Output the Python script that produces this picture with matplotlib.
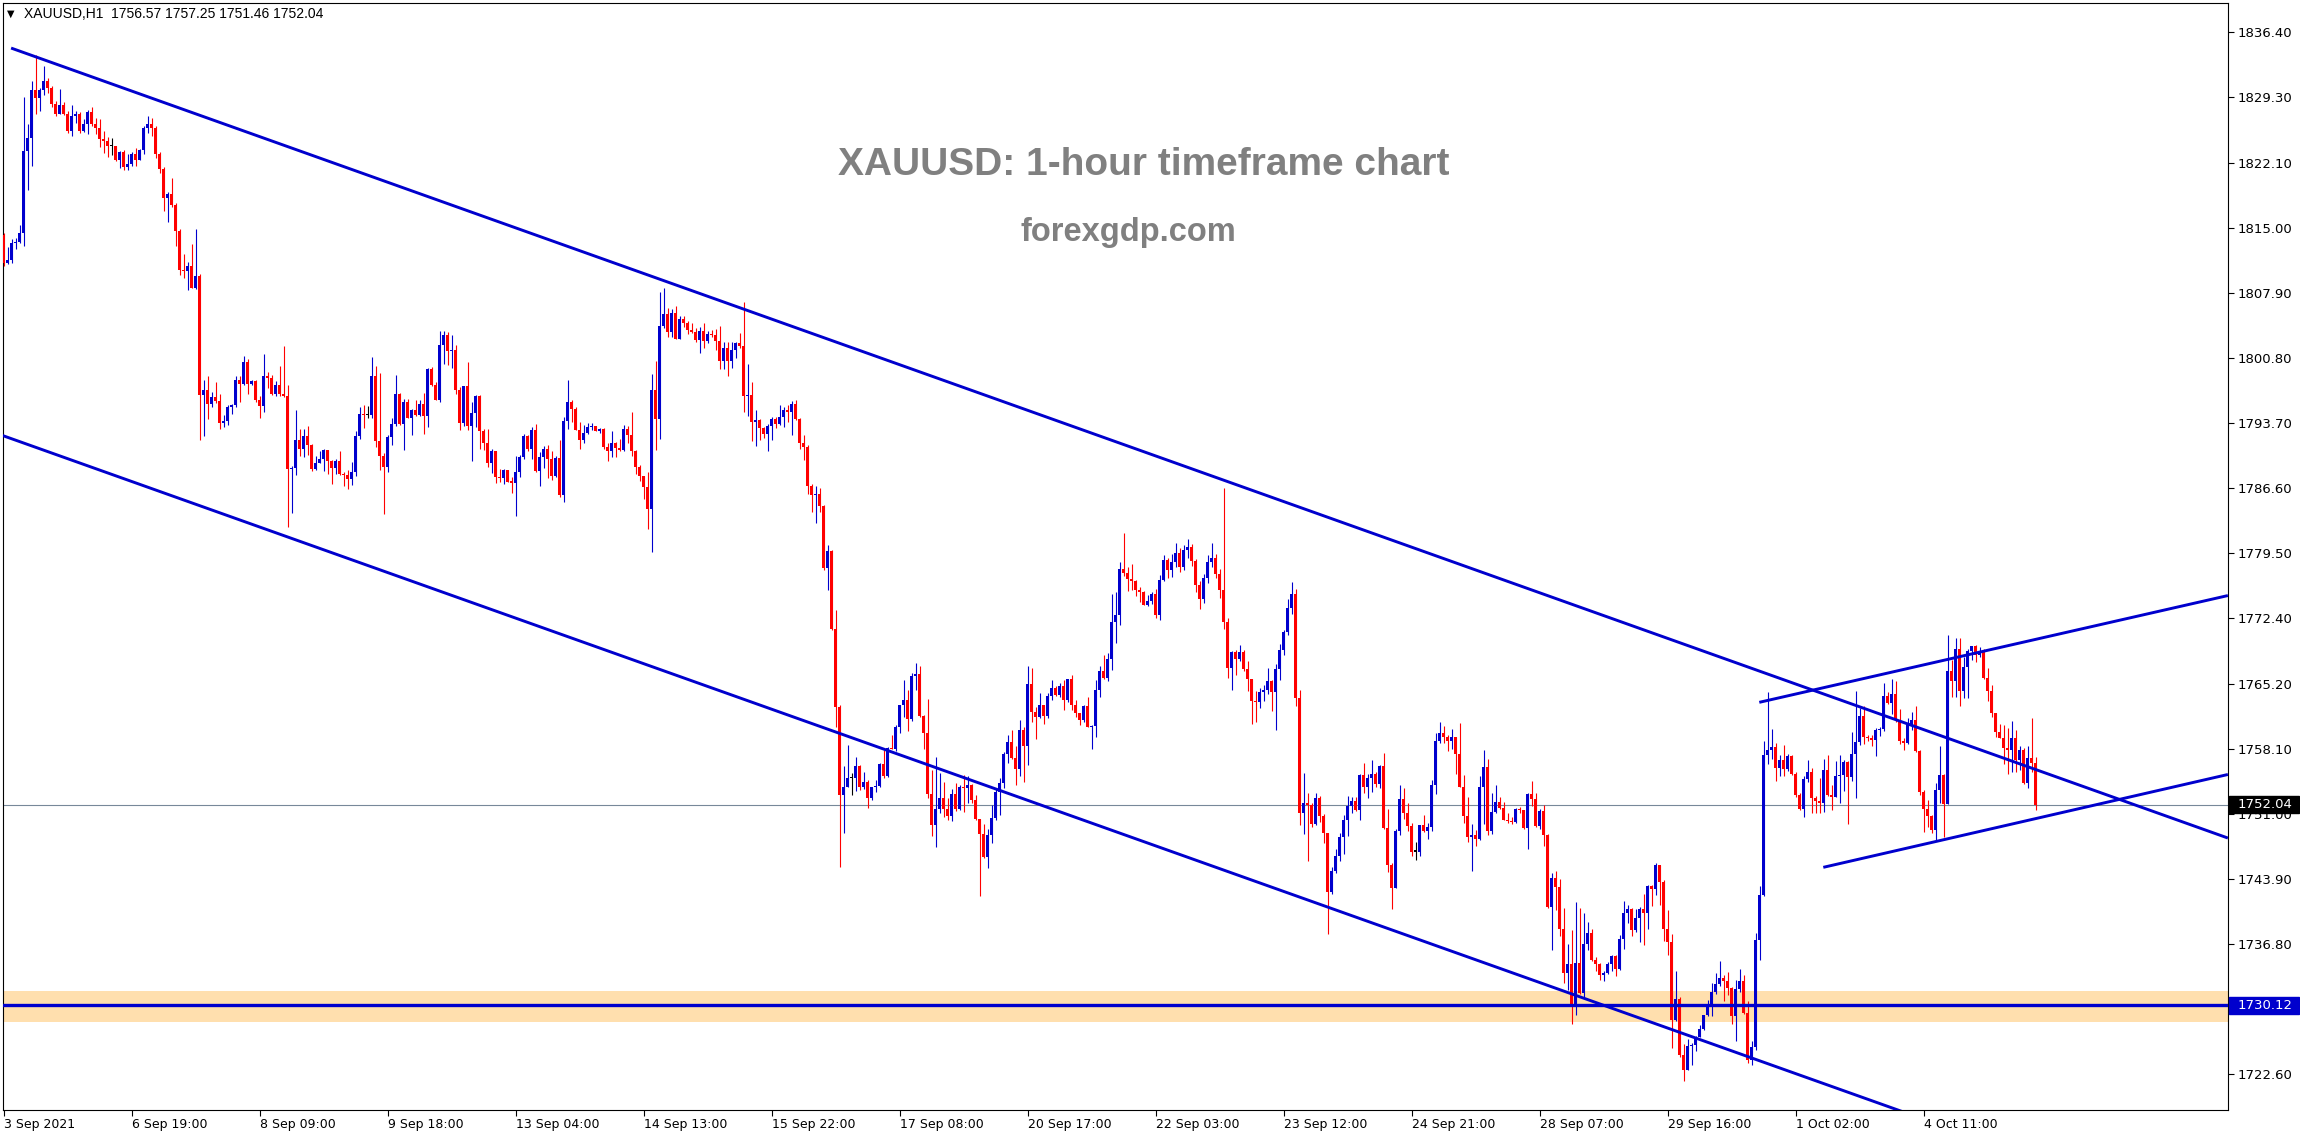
import numpy as np
import matplotlib
matplotlib.use("Agg")
import matplotlib.pyplot as plt
import matplotlib.transforms as mtransforms
from matplotlib.patches import Rectangle

# XAUUSD H1 candles (open = previous close)
first_open = 1814.2

closes = [
    1811.2, 1811.5, 1813.4, 1813.5, 1814.5, 1823.4, 1824.8, 1830.1, 1829.2, 1830.1,
    1831.1, 1830.3, 1828.5, 1827.5, 1828.4, 1827.5, 1825.6, 1827.2, 1827.4, 1825.6,
    1826.4, 1827.7, 1826.4, 1825.9, 1824.7, 1824.5, 1823.9, 1823.9, 1822.4, 1823.3,
    1821.7, 1822.0, 1823.1, 1822.4, 1823.5, 1825.9, 1826.4, 1825.9, 1823.1, 1821.4,
    1818.3, 1818.7, 1817.5, 1814.7, 1810.4, 1810.3, 1810.9, 1808.5, 1809.8, 1796.8,
    1797.3, 1795.8, 1796.5, 1796.1, 1793.7, 1793.9, 1795.4, 1795.7, 1798.4, 1798.0,
    1800.4, 1798.0, 1798.3, 1796.2, 1795.6, 1798.8, 1798.6, 1796.9, 1797.9, 1796.9,
    1796.6, 1788.7, 1788.8, 1791.9, 1790.9, 1792.3, 1791.3, 1788.7, 1789.3, 1789.8,
    1790.8, 1789.6, 1788.8, 1789.6, 1788.1, 1788.0, 1787.6, 1788.3, 1792.3, 1794.7,
    1794.6, 1794.6, 1798.8, 1791.7, 1790.1, 1788.9, 1792.2, 1793.6, 1796.9, 1793.6,
    1796.0, 1794.3, 1795.1, 1794.6, 1795.8, 1794.5, 1799.6, 1797.9, 1796.2, 1802.2,
    1803.3, 1801.6, 1801.7, 1797.3, 1793.7, 1797.7, 1793.4, 1794.8, 1796.6, 1792.8,
    1791.5, 1789.3, 1790.6, 1787.8, 1787.7, 1788.6, 1787.3, 1787.2, 1788.3, 1790.0,
    1792.3, 1790.9, 1792.9, 1788.5, 1790.0, 1790.9, 1789.8, 1787.9, 1789.9, 1785.8,
    1793.9, 1796.0, 1795.2, 1792.9, 1791.8, 1792.6, 1793.3, 1793.4, 1792.8, 1793.1,
    1791.1, 1790.7, 1791.5, 1791.0, 1790.8, 1793.0, 1792.4, 1790.6, 1788.9, 1787.9,
    1786.7, 1784.3, 1797.3, 1794.1, 1804.3, 1805.6, 1803.6, 1805.7, 1802.9, 1805.1,
    1804.6, 1803.9, 1803.6, 1802.8, 1803.8, 1802.7, 1803.4, 1803.3, 1802.7, 1800.5,
    1801.9, 1800.5, 1801.7, 1802.4, 1802.1, 1796.6, 1796.8, 1793.8, 1794.0, 1793.2,
    1792.5, 1793.4, 1794.1, 1793.6, 1794.4, 1795.1, 1794.9, 1795.8, 1794.1, 1791.5,
    1791.1, 1786.8, 1785.8, 1786.0, 1784.6, 1777.9, 1779.7, 1771.2, 1762.7, 1753.1,
    1754.0, 1754.9, 1754.9, 1756.3, 1754.0, 1754.5, 1752.7, 1753.9, 1754.1, 1756.5,
    1755.1, 1758.2, 1758.1, 1760.5, 1762.9, 1763.4, 1761.4, 1766.1, 1766.3, 1761.7,
    1759.9, 1753.2, 1749.8, 1751.5, 1752.7, 1751.6, 1750.8, 1753.2, 1751.6, 1754.0,
    1753.8, 1754.2, 1752.5, 1750.5, 1748.8, 1746.3, 1748.7, 1750.6, 1753.4, 1754.4,
    1757.6, 1758.9, 1757.1, 1755.9, 1760.2, 1758.4, 1765.2, 1762.1, 1761.6, 1762.9,
    1761.7, 1763.9, 1764.8, 1764.0, 1765.0, 1763.4, 1765.7, 1762.9, 1762.0, 1761.3,
    1762.8, 1760.5, 1760.6, 1764.5, 1766.6, 1765.9, 1767.9, 1772.0, 1772.7, 1777.8,
    1777.3, 1776.7, 1776.5, 1775.5, 1775.2, 1773.8, 1774.3, 1775.0, 1772.7, 1776.6,
    1778.7, 1777.7, 1778.5, 1779.5, 1778.0, 1779.8, 1780.2, 1778.6, 1776.0, 1774.5,
    1776.8, 1778.5, 1779.0, 1777.2, 1775.5, 1772.0, 1767.0, 1768.7, 1767.9, 1768.7,
    1766.8, 1765.7, 1763.3, 1763.2, 1764.3, 1764.6, 1765.5, 1764.3, 1766.8, 1768.9,
    1770.9, 1773.5, 1775.0, 1763.7, 1751.1, 1752.2, 1752.0, 1749.9, 1752.8, 1750.8,
    1748.9, 1742.5, 1744.8, 1746.4, 1748.5, 1750.3, 1751.9, 1752.4, 1751.4, 1755.3,
    1754.0, 1754.9, 1755.4, 1754.3, 1756.2, 1749.5, 1745.4, 1742.9, 1749.1, 1752.6,
    1751.1, 1749.7, 1746.9, 1746.9, 1749.8, 1749.1, 1749.6, 1754.2, 1759.0, 1759.8,
    1759.4, 1759.0, 1759.4, 1757.6, 1753.9, 1750.8, 1748.5, 1748.7, 1748.3, 1753.9,
    1756.1, 1749.1, 1751.2, 1752.3, 1751.7, 1750.3, 1750.2, 1750.1, 1751.5, 1751.4,
    1749.5, 1753.2, 1752.6, 1749.7, 1751.3, 1748.7, 1740.9, 1744.0, 1743.0, 1738.4,
    1733.6, 1734.6, 1730.3, 1734.7, 1731.5, 1736.8, 1738.0, 1735.1, 1734.6, 1733.4,
    1733.6, 1734.6, 1735.5, 1734.1, 1737.3, 1740.2, 1740.6, 1738.3, 1739.7, 1740.6,
    1740.2, 1743.1, 1742.8, 1745.4, 1743.6, 1738.4, 1737.0, 1728.5, 1730.8, 1724.7,
    1723.1, 1725.7, 1725.8, 1726.7, 1727.5, 1729.0, 1730.3, 1731.6, 1732.4, 1733.1,
    1732.8, 1732.0, 1728.9, 1731.9, 1732.8, 1729.3, 1724.1, 1725.6, 1737.2, 1742.2,
    1757.4, 1758.0, 1758.3, 1756.0, 1756.9, 1755.9, 1757.3, 1755.4, 1753.1, 1751.5,
    1754.8, 1755.6, 1752.7, 1752.4, 1752.2, 1755.8, 1753.1, 1752.9, 1755.1, 1755.3,
    1756.7, 1755.0, 1757.6, 1758.9, 1761.7, 1759.4, 1759.3, 1759.1, 1760.2, 1760.3,
    1763.9, 1763.1, 1764.1, 1761.3, 1759.0, 1758.8, 1760.7, 1761.3, 1757.9, 1753.4,
    1751.6, 1750.8, 1749.3, 1753.6, 1755.3, 1752.1, 1766.6, 1765.5, 1769.0, 1764.4,
    1767.1, 1768.8, 1769.3, 1768.4, 1768.8, 1765.9, 1764.4, 1762.0, 1760.0, 1759.3,
    1758.2, 1758.0, 1759.3, 1756.9, 1758.0, 1754.4, 1757.1, 1756.57, 1752.04,
]

highs = [
    1814.4, 1812.9, 1813.8, 1813.9, 1815.3, 1829.3, 1826.4, 1831.0, 1833.9, 1830.3,
    1832.7, 1831.4, 1830.5, 1828.9, 1830.2, 1828.8, 1827.8, 1828.4, 1827.8, 1827.7,
    1826.9, 1827.9, 1828.2, 1827.0, 1826.9, 1825.6, 1824.9, 1824.8, 1824.0, 1823.4,
    1823.5, 1823.1, 1823.3, 1823.7, 1823.6, 1826.1, 1827.2, 1827.0, 1826.1, 1823.3,
    1821.7, 1818.9, 1820.5, 1817.7, 1814.9, 1812.2, 1811.3, 1813.2, 1814.9, 1810.0,
    1798.4, 1798.8, 1797.1, 1798.2, 1796.9, 1794.6, 1795.7, 1795.8, 1798.8, 1798.8,
    1801.0, 1800.7, 1798.4, 1798.4, 1796.6, 1801.2, 1799.3, 1798.9, 1798.3, 1799.9,
    1802.1, 1797.9, 1789.0, 1795.1, 1793.1, 1793.1, 1793.4, 1791.4, 1790.1, 1790.6,
    1790.9, 1790.8, 1789.7, 1789.8, 1790.6, 1788.4, 1788.6, 1789.4, 1792.8, 1795.5,
    1795.7, 1795.6, 1800.9, 1799.9, 1799.2, 1790.4, 1792.4, 1794.3, 1799.0, 1797.0,
    1796.3, 1796.3, 1795.2, 1796.2, 1796.2, 1797.0, 1799.7, 1799.8, 1798.2, 1803.7,
    1803.7, 1803.6, 1803.3, 1802.2, 1797.6, 1797.7, 1800.4, 1796.0, 1796.8, 1796.8,
    1793.1, 1793.0, 1790.9, 1790.7, 1788.7, 1788.7, 1788.6, 1787.8, 1790.1, 1790.2,
    1792.5, 1792.4, 1793.3, 1793.6, 1790.5, 1791.2, 1791.3, 1790.6, 1790.1, 1791.8,
    1794.4, 1798.4, 1796.2, 1795.5, 1793.8, 1793.5, 1793.7, 1793.7, 1793.4, 1793.2,
    1793.2, 1791.5, 1792.8, 1791.6, 1792.0, 1793.5, 1793.4, 1794.9, 1790.8, 1789.1,
    1787.9, 1788.3, 1799.1, 1800.5, 1808.0, 1808.5, 1806.3, 1806.2, 1806.5, 1805.4,
    1805.4, 1804.8, 1804.6, 1804.1, 1804.2, 1804.6, 1803.7, 1803.9, 1804.0, 1804.3,
    1802.6, 1802.6, 1802.5, 1802.5, 1803.5, 1806.9, 1800.2, 1798.2, 1795.1, 1794.1,
    1793.3, 1793.6, 1794.4, 1794.4, 1795.7, 1795.5, 1795.7, 1796.1, 1796.2, 1794.3,
    1792.4, 1791.3, 1787.0, 1786.8, 1786.6, 1784.8, 1780.4, 1779.8, 1773.3, 1762.9,
    1756.3, 1758.5, 1755.5, 1757.2, 1756.4, 1755.6, 1754.7, 1754.0, 1754.7, 1756.6,
    1758.0, 1758.3, 1759.6, 1760.7, 1762.9, 1765.6, 1764.5, 1766.4, 1767.5, 1767.2,
    1761.8, 1763.6, 1755.8, 1757.2, 1755.5, 1754.5, 1752.7, 1753.7, 1754.4, 1754.2,
    1755.3, 1755.1, 1754.3, 1753.1, 1750.5, 1749.9, 1749.4, 1752.0, 1753.7, 1754.9,
    1757.8, 1759.6, 1760.2, 1758.4, 1761.3, 1760.5, 1767.2, 1766.9, 1762.7, 1764.2,
    1762.9, 1764.2, 1765.6, 1765.0, 1765.3, 1765.6, 1765.8, 1766.2, 1763.5, 1762.0,
    1762.9, 1763.8, 1760.7, 1765.6, 1767.2, 1768.4, 1768.6, 1775.0, 1775.2, 1778.5,
    1781.7, 1778.0, 1778.3, 1776.6, 1775.8, 1775.4, 1774.9, 1775.3, 1775.6, 1777.1,
    1779.3, 1779.0, 1779.4, 1780.6, 1780.0, 1780.4, 1781.0, 1780.5, 1778.9, 1776.4,
    1777.2, 1779.3, 1780.6, 1779.4, 1777.8, 1786.6, 1772.4, 1768.8, 1768.9, 1769.5,
    1768.9, 1767.7, 1765.8, 1764.4, 1764.8, 1765.1, 1767.0, 1765.6, 1767.4, 1769.6,
    1771.1, 1774.5, 1776.3, 1775.6, 1764.5, 1755.5, 1753.3, 1752.2, 1753.3, 1753.0,
    1751.0, 1748.9, 1745.2, 1747.2, 1748.9, 1750.9, 1753.0, 1752.9, 1752.9, 1755.4,
    1756.6, 1755.4, 1756.9, 1755.6, 1756.4, 1757.7, 1751.5, 1745.6, 1749.4, 1754.2,
    1753.8, 1752.2, 1750.0, 1748.0, 1749.8, 1750.9, 1750.0, 1754.7, 1759.8, 1761.0,
    1760.6, 1759.6, 1760.3, 1759.4, 1760.9, 1755.3, 1752.9, 1749.9, 1749.3, 1755.1,
    1758.0, 1757.0, 1753.3, 1754.2, 1752.9, 1752.3, 1751.1, 1750.7, 1751.7, 1751.8,
    1751.4, 1753.3, 1754.6, 1753.3, 1751.5, 1752.0, 1748.8, 1744.6, 1744.8, 1743.9,
    1740.7, 1736.8, 1738.3, 1741.4, 1740.7, 1740.2, 1739.2, 1738.5, 1735.4, 1734.7,
    1733.9, 1734.8, 1735.6, 1735.6, 1737.8, 1741.5, 1741.1, 1740.7, 1740.6, 1740.9,
    1742.3, 1743.3, 1743.3, 1745.6, 1745.4, 1743.8, 1740.5, 1737.9, 1733.9, 1731.0,
    1725.9, 1726.4, 1726.0, 1726.8, 1728.0, 1729.1, 1730.7, 1732.6, 1733.6, 1734.9,
    1733.4, 1733.7, 1732.1, 1732.9, 1734.1, 1733.4, 1730.6, 1726.2, 1738.0, 1743.1,
    1759.0, 1764.3, 1760.3, 1758.8, 1757.4, 1758.5, 1757.6, 1757.5, 1755.6, 1753.3,
    1755.1, 1756.9, 1756.0, 1753.0, 1754.9, 1757.0, 1757.4, 1754.2, 1756.8, 1757.4,
    1756.9, 1756.8, 1760.0, 1764.4, 1762.6, 1762.8, 1759.6, 1759.6, 1760.4, 1760.5,
    1765.3, 1764.3, 1765.7, 1765.5, 1762.5, 1759.3, 1761.5, 1762.1, 1762.8, 1758.0,
    1753.6, 1752.5, 1750.9, 1754.4, 1758.4, 1755.4, 1770.6, 1767.8, 1770.2, 1770.2,
    1768.1, 1769.0, 1769.4, 1769.5, 1769.2, 1769.0, 1766.9, 1765.1, 1762.0, 1760.8,
    1760.7, 1760.4, 1761.2, 1760.2, 1758.4, 1758.2, 1758.4, 1761.5, 1757.25,
]

lows = [
    1810.9, 1811.1, 1811.2, 1812.7, 1813.4, 1813.0, 1819.1, 1821.8, 1827.4, 1827.8,
    1829.5, 1829.7, 1828.2, 1827.2, 1827.4, 1827.3, 1825.4, 1825.1, 1826.5, 1825.4,
    1825.5, 1825.3, 1826.1, 1825.3, 1823.8, 1823.2, 1822.7, 1823.0, 1822.3, 1821.6,
    1821.3, 1821.3, 1821.8, 1821.8, 1822.4, 1823.1, 1825.4, 1825.0, 1822.6, 1821.0,
    1816.9, 1815.6, 1817.3, 1813.0, 1809.9, 1809.5, 1808.2, 1808.4, 1808.3, 1791.9,
    1792.3, 1794.1, 1795.4, 1795.9, 1793.1, 1793.3, 1793.5, 1794.7, 1795.4, 1796.0,
    1797.8, 1796.9, 1797.9, 1796.0, 1794.3, 1794.9, 1797.5, 1796.8, 1796.6, 1796.7,
    1796.5, 1782.3, 1783.9, 1788.0, 1790.1, 1790.0, 1790.2, 1788.5, 1788.6, 1789.3,
    1788.5, 1788.1, 1787.0, 1788.1, 1788.0, 1786.8, 1786.5, 1786.9, 1787.9, 1792.0,
    1793.2, 1794.3, 1794.3, 1791.1, 1788.6, 1783.8, 1788.3, 1791.3, 1793.4, 1793.5,
    1790.8, 1794.2, 1792.4, 1794.5, 1794.5, 1792.5, 1793.3, 1797.7, 1796.2, 1796.0,
    1800.2, 1800.0, 1799.7, 1796.9, 1792.9, 1793.4, 1792.9, 1789.5, 1793.3, 1790.9,
    1790.8, 1788.9, 1788.2, 1787.2, 1787.3, 1787.0, 1787.3, 1786.1, 1783.5, 1787.8,
    1789.8, 1790.7, 1789.8, 1788.4, 1786.8, 1788.8, 1787.7, 1787.5, 1787.8, 1785.6,
    1785.1, 1793.0, 1793.8, 1792.9, 1790.9, 1791.5, 1792.5, 1792.9, 1792.8, 1792.6,
    1790.9, 1789.6, 1790.0, 1790.0, 1790.6, 1790.7, 1791.5, 1790.1, 1788.1, 1787.4,
    1785.4, 1782.1, 1779.6, 1790.8, 1792.0, 1804.1, 1803.1, 1803.1, 1802.9, 1802.9,
    1804.2, 1803.4, 1803.5, 1802.5, 1801.3, 1801.9, 1802.4, 1803.1, 1801.7, 1799.6,
    1799.6, 1798.8, 1799.7, 1800.8, 1801.9, 1794.9, 1794.5, 1791.7, 1791.2, 1791.8,
    1792.1, 1790.7, 1791.8, 1793.2, 1793.5, 1793.3, 1793.8, 1792.4, 1794.0, 1790.9,
    1789.7, 1785.9, 1784.0, 1782.8, 1784.0, 1777.6, 1775.5, 1771.1, 1760.5, 1745.2,
    1748.9, 1754.0, 1753.1, 1753.5, 1753.6, 1753.7, 1751.7, 1752.5, 1753.4, 1753.9,
    1754.9, 1755.0, 1758.1, 1757.9, 1759.9, 1761.6, 1760.1, 1761.2, 1764.6, 1761.6,
    1758.1, 1752.7, 1748.6, 1747.4, 1751.1, 1750.7, 1750.3, 1750.2, 1751.3, 1751.4,
    1751.2, 1752.2, 1752.2, 1750.4, 1742.0, 1746.2, 1745.1, 1747.8, 1750.4, 1750.9,
    1753.8, 1756.6, 1757.0, 1754.2, 1755.1, 1754.5, 1756.4, 1761.0, 1759.2, 1761.5,
    1760.8, 1761.5, 1763.5, 1763.9, 1763.8, 1762.4, 1763.2, 1762.4, 1761.6, 1760.7,
    1761.0, 1760.5, 1758.1, 1759.4, 1763.8, 1765.8, 1765.5, 1766.7, 1769.7, 1771.6,
    1777.0, 1775.4, 1775.5, 1774.8, 1774.2, 1773.8, 1773.7, 1773.9, 1772.4, 1772.2,
    1776.4, 1776.8, 1776.9, 1778.0, 1777.4, 1777.6, 1779.0, 1778.1, 1775.2, 1773.4,
    1774.0, 1776.2, 1778.0, 1776.8, 1774.6, 1771.2, 1765.9, 1764.6, 1766.2, 1767.7,
    1766.6, 1764.4, 1760.8, 1761.1, 1762.6, 1763.3, 1764.1, 1762.2, 1760.2, 1765.6,
    1768.4, 1770.5, 1772.8, 1762.8, 1749.8, 1748.8, 1745.9, 1749.6, 1749.8, 1750.1,
    1747.8, 1737.9, 1742.3, 1744.6, 1745.9, 1746.6, 1748.6, 1751.1, 1751.3, 1750.3,
    1753.3, 1752.7, 1753.4, 1754.0, 1753.8, 1749.4, 1744.7, 1740.6, 1742.9, 1748.7,
    1750.5, 1749.1, 1746.4, 1746.0, 1746.4, 1749.0, 1748.3, 1749.2, 1753.2, 1758.8,
    1758.8, 1757.9, 1758.1, 1755.4, 1753.9, 1750.0, 1747.9, 1744.8, 1747.5, 1748.2,
    1749.9, 1748.7, 1748.8, 1751.1, 1751.5, 1750.3, 1750.0, 1749.9, 1750.0, 1751.1,
    1749.4, 1747.2, 1751.9, 1749.6, 1749.4, 1747.5, 1740.7, 1736.1, 1740.5, 1737.7,
    1732.5, 1731.8, 1728.1, 1729.0, 1731.4, 1731.0, 1736.1, 1735.0, 1733.9, 1732.9,
    1732.8, 1733.5, 1733.9, 1733.3, 1734.0, 1736.3, 1739.1, 1737.7, 1738.1, 1737.0,
    1736.7, 1738.4, 1741.0, 1742.2, 1741.1, 1737.1, 1735.6, 1725.5, 1728.4, 1724.5,
    1721.8, 1723.1, 1723.6, 1725.1, 1726.7, 1727.4, 1728.9, 1728.9, 1731.3, 1732.2,
    1730.6, 1731.2, 1728.1, 1726.2, 1731.6, 1729.2, 1723.8, 1723.6, 1725.2, 1735.1,
    1742.0, 1756.5, 1757.0, 1754.6, 1755.1, 1755.1, 1755.7, 1755.3, 1752.9, 1751.4,
    1750.7, 1754.5, 1751.1, 1751.1, 1751.1, 1751.2, 1753.0, 1751.4, 1752.9, 1752.2,
    1753.5, 1749.9, 1754.6, 1752.7, 1758.5, 1758.7, 1759.0, 1758.4, 1757.3, 1759.5,
    1760.1, 1763.0, 1761.9, 1761.0, 1758.7, 1758.0, 1758.7, 1760.2, 1757.8, 1753.1,
    1749.0, 1749.6, 1748.9, 1748.2, 1752.2, 1748.5, 1752.1, 1763.8, 1763.8, 1762.8,
    1763.7, 1763.7, 1767.8, 1767.6, 1768.2, 1765.7, 1763.3, 1761.6, 1759.4, 1759.3,
    1756.5, 1755.4, 1755.6, 1755.6, 1755.8, 1754.3, 1753.8, 1755.6, 1751.46,
]

tick_labels = ['3 Sep 2021', '6 Sep 19:00', '8 Sep 09:00', '9 Sep 18:00', '13 Sep 04:00',
               '14 Sep 13:00', '15 Sep 22:00', '17 Sep 08:00', '20 Sep 17:00', '22 Sep 03:00',
               '23 Sep 12:00', '24 Sep 21:00', '28 Sep 07:00', '29 Sep 16:00', '1 Oct 02:00',
               '4 Oct 11:00']
tick_bars = [32 * k for k in range(len(tick_labels))]

price_ticks = [1836.40, 1829.30, 1822.10, 1815.00, 1807.90, 1800.80, 1793.70, 1786.60,
               1779.50, 1772.40, 1765.20, 1758.10, 1751.00, 1743.90, 1736.80, 1729.70, 1722.60]
# 1729.70 sits under the 1730.12 price tag, so its label is not shown
hidden_price_labels = [1729.70]

# trend lines: (bar, price) end points
upper_channel = ([1.9, 556.1], [1834.65, 1748.38])
lower_channel = ([-0.9, 473.6], [1792.44, 1718.68])
wedge_top = ([438.95, 556.1], [1763.2, 1774.86])
wedge_bottom = ([454.95, 556.1], [1745.18, 1755.32])
support_level = 1730.12
support_zone = (1728.32, 1731.67)
bid_price = 1752.04

BLUE = '#0000CD'
RED = '#FF0000'

c = np.array(closes)
o = np.concatenate([[first_open], c[:-1]])
h = np.maximum(np.array(highs), np.maximum(o, c))
l = np.minimum(np.array(lows), np.minimum(o, c))
x = np.arange(len(c))
colors = np.where(c > o, BLUE, np.where(c < o, RED, 'black'))

fig = plt.figure(figsize=(23, 11.35), dpi=100)
W, H = 2300, 1135
ax = fig.add_axes([3 / W, 25 / H, 2225 / W, 1107 / H])
ax.set_xlim(-0.125, 556.125)
ax.set_ylim(1718.68, 1839.57)

# support zone and bid line
ax.axhspan(*support_zone, color='#FFDFAE', lw=0, zorder=1)
ax.axhline(bid_price, color='#778899', lw=0.8, zorder=1.5)

# candles
ax.vlines(x, l, h, colors=colors, lw=0.8, zorder=3)
ax.bar(x, np.maximum(np.abs(c - o), 0.12), bottom=np.minimum(o, c), width=0.72,
       color=colors, lw=0, zorder=3.1)

ax.axhline(support_level, color=BLUE, lw=2.4, zorder=4)
for xs, ys in (upper_channel, wedge_top, wedge_bottom):
    ax.plot(xs, ys, color=BLUE, lw=2.1, zorder=4, solid_capstyle='butt')
# lower channel runs off the bottom of the chart
slope = (lower_channel[1][1] - lower_channel[1][0]) / (lower_channel[0][1] - lower_channel[0][0])
ax.plot([lower_channel[0][0], 500], [lower_channel[1][0],
        lower_channel[1][0] + slope * (500 - lower_channel[0][0])],
        color=BLUE, lw=2.1, zorder=4, solid_capstyle='butt')

# axes styling
for sp in ax.spines.values():
    sp.set_color('black')
    sp.set_linewidth(0.8)
ax.yaxis.tick_right()
ax.set_yticks(price_ticks)
ax.set_yticklabels(['' if p in hidden_price_labels else f'{p:.2f}' for p in price_ticks])
ax.tick_params(axis='y', direction='out', length=4, width=0.8, pad=3, labelsize=9.5)
ax.set_xticks(tick_bars)
ax.set_xticklabels(tick_labels, ha='left')
ax.tick_params(axis='x', direction='out', length=4, width=0.8, pad=2, labelsize=9)

# price tags on the axis
tr = mtransforms.blended_transform_factory(ax.transAxes, ax.transData)
for price, bg in ((bid_price, 'black'), (support_level, BLUE)):
    ax.add_patch(Rectangle((1.0005, price - 0.95), 0.0315, 1.9, transform=tr,
                           color=bg, clip_on=False, zorder=10))
    ax.text(1.0045, price, f'{price:.2f}', transform=tr, color='white', fontsize=9.5,
            va='center', ha='left', clip_on=False, zorder=11)

# header and titles
fig.text(7 / W, 1 - 14 / H, '\u25bc', fontsize=7, va='center', ha='left')
fig.text(24 / W, 1 - 14 / H, 'XAUUSD,H1  1756.57 1757.25 1751.46 1752.04',
         fontsize=10, va='center', ha='left', family='Liberation Sans')
fig.text(1144 / W, 1 - 165 / H, 'XAUUSD: 1-hour timeframe chart', ha='center', va='center',
         fontsize=28, fontweight='bold', color='#808080', family='Liberation Sans')
fig.text(1128 / W, 1 - 233 / H, 'forexgdp.com', ha='center', va='center',
         fontsize=23.5, fontweight='bold', color='#808080', family='Liberation Sans')

fig.savefig('out.png', dpi=100)
